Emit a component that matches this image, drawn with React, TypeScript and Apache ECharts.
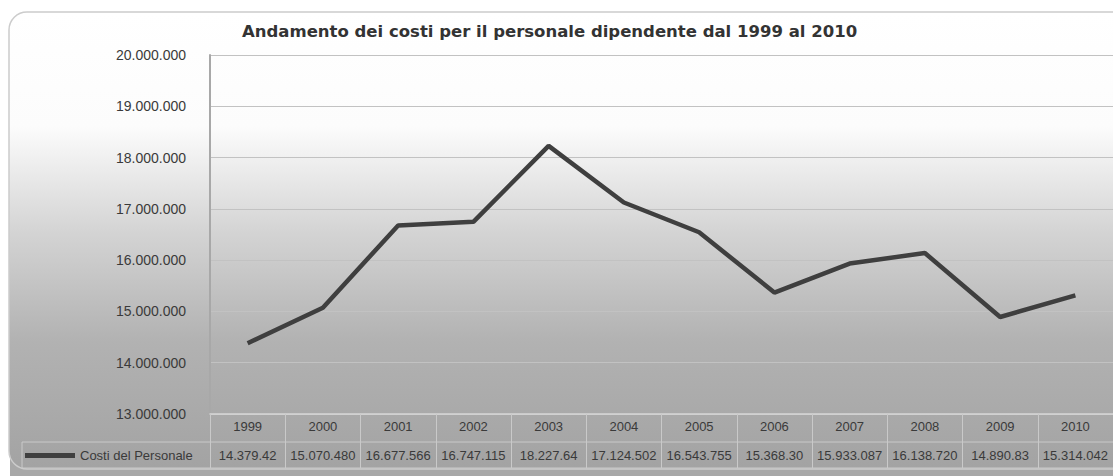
import React, { useEffect, useRef } from "react";
import * as echarts from "echarts";

const years = ["1999", "2000", "2001", "2002", "2003", "2004", "2005", "2006", "2007", "2008", "2009", "2010"];
const costValues = [14379420, 15070480, 16677566, 16747115, 18227640, 17124502, 16543755, 15368300, 15933087, 16138720, 14890830, 15314042];
const costTableLabels = ["14.379.42", "15.070.480", "16.677.566", "16.747.115", "18.227.64", "17.124.502", "16.543.755", "15.368.30", "15.933.087", "16.138.720", "14.890.83", "15.314.042"];
const seriesName = "Costi del Personale";
const chartTitle = "Andamento dei costi per il personale dipendente dal 1999 al 2010";

const fmt = (v: number) => String(Math.round(v)).replace(/\B(?=(\d{3})+(?!\d))/g, ".");

export default function App() {
  const ref = useRef<HTMLDivElement>(null);
  useEffect(() => {
    if (!ref.current) return;
    const chart = echarts.init(ref.current, null, { renderer: "svg" });
    chart.setOption({
      animation: false,
      backgroundColor: "#ffffff",
      title: {
        text: chartTitle,
        left: 242,
        top: 23,
        padding: 0,
        textStyle: { fontFamily: "DejaVu Sans", fontWeight: "bold", fontSize: 16.5, color: "#333333" },
      },
      legend: {
        data: [seriesName],
        left: 25,
        top: 449,
        padding: 0,
        icon: "rect",
        itemWidth: 50,
        itemHeight: 5,
        textStyle: { fontFamily: "Liberation Sans", fontSize: 13, color: "#3a3a3a" },
      },
      graphic: [
        {
          type: "rect",
          z: -20,
          silent: true,
          shape: { x: 10, y: 455, width: 1110, height: 30 },
          style: { fill: "#a8a8a8" },
        },
        {
          type: "rect",
          z: -10,
          silent: true,
          shape: { x: 9, y: 12, width: 1130, height: 457, r: 18 },
          style: {
            fill: new echarts.graphic.LinearGradient(0, 0, 0, 1, [
              { offset: 0, color: "#ffffff" },
              { offset: 0.25, color: "#fcfcfc" },
              { offset: 0.48, color: "#d4d4d4" },
              { offset: 0.72, color: "#b2b2b2" },
              { offset: 1, color: "#a3a3a3" },
            ]),
            stroke: "#cccccc",
            lineWidth: 1.5,
          },
        },
        {
          type: "rect",
          z: -5,
          silent: true,
          shape: { x: 22, y: 442, width: 1120, height: 26 },
          style: { fill: "none", stroke: "#c9c9c9", lineWidth: 1 },
        },
      ],
      grid: { left: 210, right: -5, top: 55, bottom: 62 },
      xAxis: [
        {
          type: "category",
          data: years,
          position: "bottom",
          boundaryGap: true,
          axisLine: { show: true, lineStyle: { color: "#d6d6d6", width: 1.5 } },
          axisTick: { show: true, interval: 0, length: 54, lineStyle: { color: "#c9c9c9", width: 1 } },
          axisLabel: { interval: 0, hideOverlap: false, margin: 6, fontFamily: "Liberation Sans", fontSize: 13, color: "#3a3a3a" },
        },
        {
          type: "category",
          data: costTableLabels,
          position: "bottom",
          offset: 28,
          boundaryGap: true,
          axisLine: { show: false },
          axisTick: { show: false },
          axisLabel: { interval: 0, hideOverlap: false, margin: 7, fontFamily: "Liberation Sans", fontSize: 13, color: "#3a3a3a" },
        },
      ],
      yAxis: {
        type: "value",
        min: 13000000,
        max: 20000000,
        interval: 1000000,
        axisLine: { show: true, lineStyle: { color: "#a8a8a8", width: 2 } },
        axisTick: { show: false },
        splitLine: { show: true, lineStyle: { color: "#c2c2c2", width: 1 } },
        axisLabel: {
          margin: 24,
          fontFamily: "Liberation Sans",
          fontSize: 14,
          color: "#3a3a3a",
          formatter: (v: number) => fmt(v),
        },
      },
      series: [
        {
          name: seriesName,
          type: "line",
          data: costValues,
          xAxisIndex: 0,
          showSymbol: false,
          symbol: "none",
          lineStyle: { color: "#3f3f3f", width: 4.5 },
          itemStyle: { color: "#3f3f3f" },
        },
      ],
    });
    return () => chart.dispose();
  }, []);
  return <div ref={ref} style={{ position: "fixed", left: 0, top: 0, width: 1113, height: 476 }} />;
}
